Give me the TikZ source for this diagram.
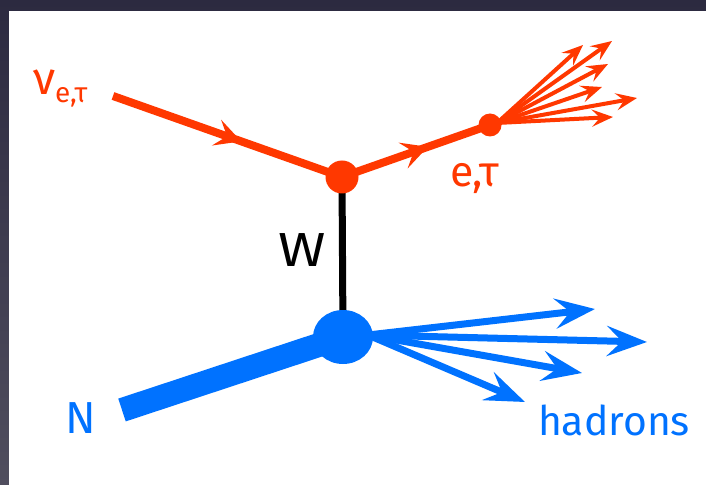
\documentclass[tikz,border=0pt]{standalone}
\usepackage{fontspec}
\usepackage{graphicx}
\setmainfont{Fira Sans}
\usetikzlibrary{arrows.meta,decorations.markings,shapes.geometric}
\definecolor{lepred}{RGB}{255,56,0}
\definecolor{hadblue}{RGB}{0,114,255}
\definecolor{frametop}{RGB}{44,42,64}
\definecolor{framebot}{RGB}{80,78,94}
\tikzset{
  midarrow/.style={postaction={decorate},decoration={markings,
     mark=at position #1 with {\arrow{Stealth[length=26bp,width=27bp,inset=11bp]}}}},
  lepline/.style={draw=lepred,line width=8bp,line cap=butt},
  fanarrow/.style={draw=lepred,line width=4bp,-{Stealth[length=21bp,width=17bp,inset=8bp]}},
  hadarrow/.style={draw=hadblue,line width=7bp,-{Stealth[length=40bp,width=30bp,inset=15bp]}},
  vertexdot/.style={circle,fill=#1,inner sep=0pt},
  lab/.style={inner sep=0pt,outer sep=0pt},
}
\begin{document}
\begin{tikzpicture}[x=1bp,y=-1bp]
\useasboundingbox (0,0) rectangle (706,485);
\fill[top color=frametop,bottom color=framebot] (0,0) rectangle (706,485);
\fill[white] (9,11) rectangle (706,485);
% coordinates
\coordinate (nuin) at (113,96);
\coordinate (vl) at (342,177);
\coordinate (vd) at (490,125);
\coordinate (fanO) at (497,123);
\coordinate (vh) at (343,337);
\coordinate (Nin) at (122,410);
\coordinate (hO) at (368,335);
\coordinate (f1) at (583,45);
\coordinate (f2) at (612,41);
\coordinate (f3) at (608,64);
\coordinate (f4) at (602,87);
\coordinate (f5) at (637,98);
\coordinate (f6) at (613,117);
\coordinate (h1) at (595,309);
\coordinate (h2) at (647,342);
\coordinate (h3) at (582,373);
\coordinate (h4) at (525,402);
% lines
\draw[black,line width=7bp] (vl) -- (vh);
\draw[hadblue,line width=24bp,line cap=butt] (Nin) -- (vh);
\draw[lepline,midarrow=0.56] (nuin) -- (vl);
\draw[lepline,midarrow=0.58] (vl) -- (vd);
\foreach \t in {f1,f2,f3,f4,f5,f6} \draw[fanarrow] (fanO) -- (\t);
\foreach \t in {h1,h2,h3,h4} \draw[hadarrow] (hO) -- (\t);
% dots
\node[vertexdot=lepred,minimum size=33bp] (dotL) at (vl) {};
\node[vertexdot=lepred,minimum size=23bp] (dotD) at (vd) {};
\node[ellipse,fill=hadblue,inner sep=0pt,minimum width=60bp,minimum height=54bp] (dotH) at (vh) {};
% labels
\node[lab,text=lepred,anchor=base west] (nulab) at (33,95)
  {\fontsize{46}{50}\selectfont ν\raisebox{-8bp}{\fontsize{28}{30}\selectfont e,τ}};
\node[lab,text=lepred,anchor=base west] (elab) at (450,187)
  {\fontsize{43}{50}\selectfont e,τ};
\node[lab,text=black,anchor=base] (Wlab) at (302.5,267)
  {\fontsize{48}{50}\selectfont\scalebox{1.2}[1]{W}};
\node[lab,text=hadblue,anchor=base west] (Nlab) at (65,433)
  {\fontsize{45}{50}\selectfont N};
\node[lab,text=hadblue,anchor=base west] (hlab) at (538,435)
  {\fontsize{41}{50}\selectfont hadrons};
\end{tikzpicture}
\end{document}
